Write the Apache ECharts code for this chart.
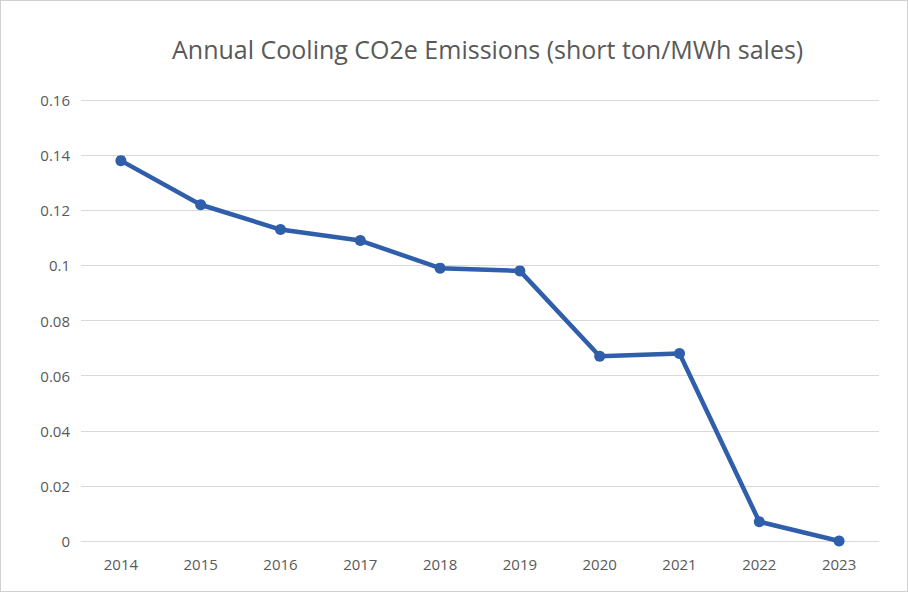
<!DOCTYPE html>
<html>
<head>
<meta charset="utf-8">
<script src="https://cdn.jsdelivr.net/npm/echarts@6/dist/echarts.min.js"></script>
<style>
  html, body { margin: 0; padding: 0; background: #fff; }
  #chart { width: 906px; height: 590px; border: 1px solid #d0d0d0; }
</style>
</head>
<body>
<div id="chart"></div>
<script>
var years = ['2014', '2015', '2016', '2017', '2018', '2019', '2020', '2021', '2022', '2023'];
var emissions = [0.138, 0.122, 0.113, 0.109, 0.099, 0.098, 0.067, 0.068, 0.007, 0];

var chart = echarts.init(document.getElementById('chart'), null, {renderer: 'svg'});
var option = {
  animation: false,
  textStyle: { fontFamily: 'Open Sans' },
  title: {
    text: 'Annual Cooling CO2e Emissions (short ton/MWh sales)',
    left: 166,
    top: 30,
    textStyle: {
      color: '#595959',
      fontSize: 25,
      fontWeight: 'normal',
      fontFamily: 'Open Sans'
    }
  },
  grid: { left: 80, right: 28, top: 99, bottom: 50 },
  xAxis: {
    type: 'category',
    data: years,
    boundaryGap: true,
    axisLine: { lineStyle: { color: '#d9d9d9' } },
    axisTick: { show: false },
    axisLabel: { color: '#595959', fontSize: 15, margin: 15 }
  },
  yAxis: {
    type: 'value',
    min: 0,
    max: 0.16,
    interval: 0.02,
    axisLine: { show: false },
    axisTick: { show: false },
    splitLine: { lineStyle: { color: '#d9d9d9', width: 1 } },
    axisLabel: {
      color: '#595959',
      fontSize: 15,
      margin: 11,
      formatter: function(v) { return String(Math.round(v * 100) / 100); }
    }
  },
  series: [{
    type: 'line',
    data: emissions,
    symbol: 'circle',
    symbolSize: 11,
    lineStyle: { width: 4.5, color: '#2F5EAA' },
    itemStyle: { color: '#2F5EAA' }
  }]
};
chart.setOption(option);
</script>
</body>
</html>
